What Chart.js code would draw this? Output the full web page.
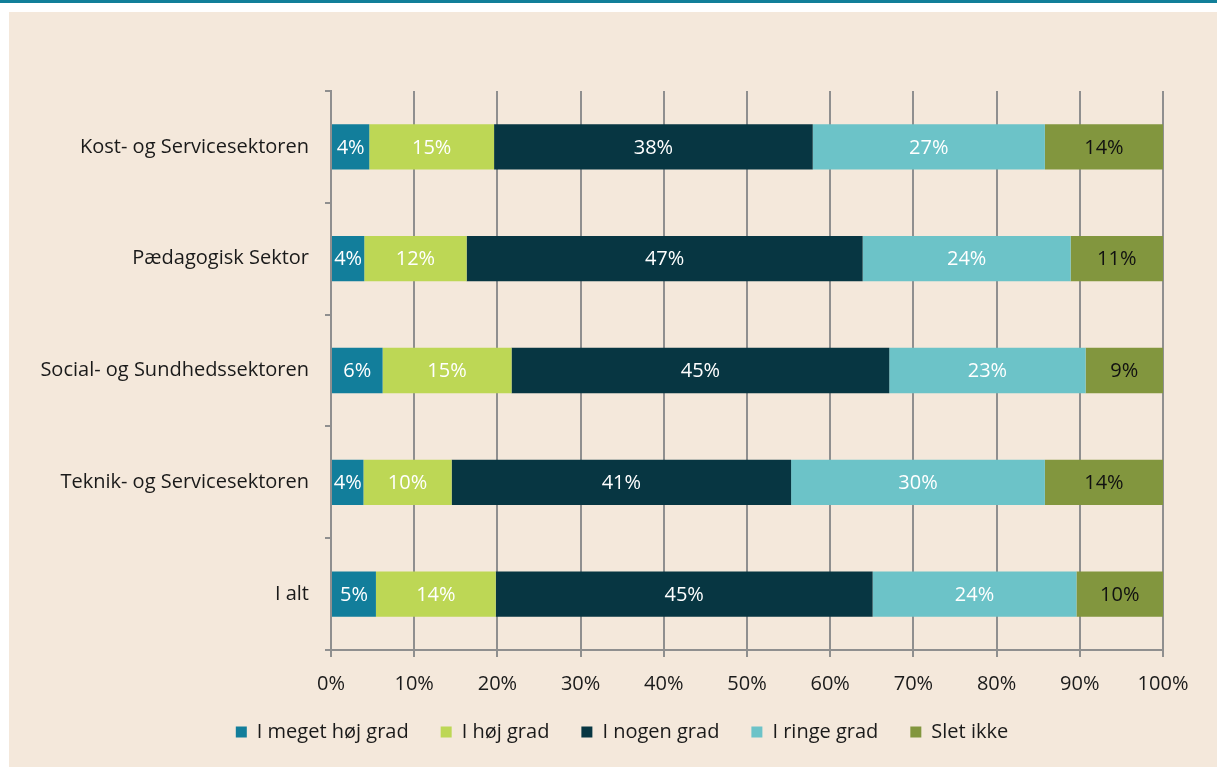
<!DOCTYPE html>
<html>
<head>
<meta charset="utf-8">
<script src="https://cdn.jsdelivr.net/npm/chart.js@4.4.0/dist/chart.umd.min.js"></script>
<style>
  html, body { margin: 0; padding: 0; background: #ffffff; width: 1217px; height: 767px; overflow: hidden; }
  #topbar { position: absolute; left: 0; top: 0; width: 1217px; height: 3px; background: #117f99; }
  #panel { position: absolute; left: 9px; top: 12px; width: 1208px; height: 755px; background: #f4e8db; }
</style>
</head>
<body>
<div id="topbar"></div>
<div id="panel"><canvas id="chartGrad" width="1208" height="755"></canvas></div>
<script>
// kategorier (oppefra og ned)
const sektorer = ['Kost- og Servicesektoren', 'Pædagogisk Sektor', 'Social- og Sundhedssektoren', 'Teknik- og Servicesektoren', 'I alt'];

// andele i procent, aflæst fra søjlerne
const megetHoej = [4.6, 4.0, 6.2, 3.9, 5.4];
const hoej      = [15.0, 12.3, 15.5, 10.6, 14.4];
const nogen     = [38.3, 47.6, 45.4, 40.8, 45.3];
const ringe     = [27.9, 25.0, 23.6, 30.5, 24.5];
const sletIkke  = [14.2, 11.1, 9.3, 14.2, 10.4];

// tekst i søjlerne
const lblMegetHoej = ['4%', '4%', '6%', '4%', '5%'];
const lblHoej      = ['15%', '12%', '15%', '10%', '14%'];
const lblNogen     = ['38%', '47%', '45%', '41%', '45%'];
const lblRinge     = ['27%', '24%', '23%', '30%', '24%'];
const lblSletIkke  = ['14%', '11%', '9%', '14%', '10%'];

const xTicks = [0, 10, 20, 30, 40, 50, 60, 70, 80, 90, 100];

const FONT = "'Open Sans', 'Noto Sans', sans-serif";
const gridFarve = '#8f8f8f';

// tegner procent-teksten midt i hvert felt
const segmentTekst = {
    id: 'segmentTekst',
    afterDatasetsDraw(chart) {
        const ctx = chart.ctx;
        ctx.save();
        ctx.font = '20px ' + FONT;
        ctx.textAlign = 'center';
        ctx.textBaseline = 'middle';
        chart.data.datasets.forEach((ds, i) => {
            const meta = chart.getDatasetMeta(i);
            meta.data.forEach((bar, j) => {
                const mid = (bar.x + bar.base) / 2;
                ctx.fillStyle = ds.tekstFarve;
                ctx.fillText(ds.tekst[j], mid, bar.y + 1);
            });
        });
        ctx.restore();
    }
};

// forklaringen står lidt til højre for midten, som i originalen
const flytForklaring = {
    id: 'flytForklaring',
    afterLayout(chart) {
        chart.legend.left += 36;
        chart.legend.right += 36;
    }
};

const ctx = document.getElementById('chartGrad');
new Chart(ctx, {
    type: 'bar',
    data: {
        labels: sektorer,
        datasets: [
            { label: 'I meget høj grad', data: megetHoej, backgroundColor: '#127e9b', tekst: lblMegetHoej, tekstFarve: '#ffffff' },
            { label: 'I høj grad', data: hoej, backgroundColor: '#bdd755', tekst: lblHoej, tekstFarve: '#ffffff' },
            { label: 'I nogen grad', data: nogen, backgroundColor: '#073642', tekst: lblNogen, tekstFarve: '#ffffff' },
            { label: 'I ringe grad', data: ringe, backgroundColor: '#6cc3c8', tekst: lblRinge, tekstFarve: '#ffffff' },
            { label: 'Slet ikke', data: sletIkke, backgroundColor: '#82963e', tekst: lblSletIkke, tekstFarve: '#111111' }
        ]
    },
    options: {
        indexAxis: 'y',
        responsive: false,
        animation: false,
        layout: { padding: { top: 79, right: 54, left: 0, bottom: 15 } },
        datasets: { bar: { barPercentage: 0.405, categoryPercentage: 1, borderWidth: 0 } },
        plugins: {
            legend: {
                position: 'bottom',
                labels: {
                    boxWidth: 11, boxHeight: 11, padding: 32,
                    color: '#1a1a1a',
                    font: { family: FONT, size: 20 },
                    useBorderRadius: false
                }
            },
            tooltip: { enabled: false }
        },
        scales: {
            x: {
                stacked: true,
                min: 0, max: 100,
                afterBuildTicks(scale) { scale.ticks = xTicks.map(v => ({ value: v })); },
                afterFit(scale) { scale.height = 40; },
                ticks: { color: '#1a1a1a', font: { family: FONT, size: 20 }, padding: 15, callback: v => v + '%' },
                grid: { color: gridFarve, lineWidth: 2, tickLength: 7 },
                border: { color: gridFarve, width: 2 }
            },
            y: {
                stacked: true,
                afterFit(scale) { scale.width = 322; },
                ticks: { color: '#1a1a1a', font: { family: FONT, size: 20 }, padding: 16 },
                grid: { drawOnChartArea: false, color: gridFarve, lineWidth: 2, tickLength: 6 },
                border: { color: gridFarve, width: 2 }
            }
        }
    },
    plugins: [segmentTekst, flytForklaring]
});
</script>
</body>
</html>
